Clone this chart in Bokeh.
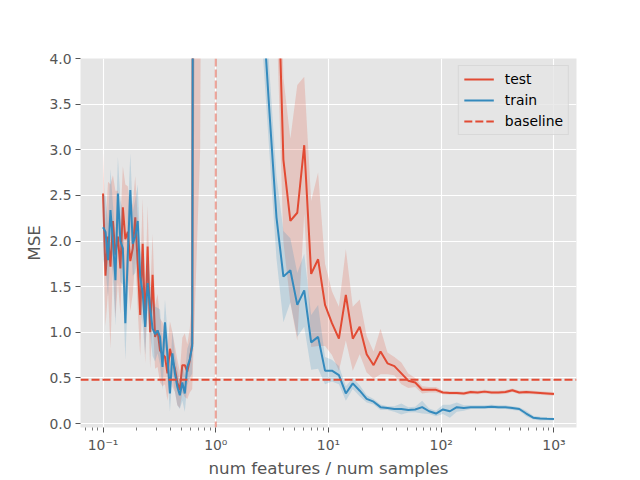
from bokeh.embed import file_html
from bokeh.models import (ColumnDataSource, CustomJSTickFormatter, FixedTicker, Legend,
                          LegendItem, NumeralTickFormatter, Range1d, Span)
from bokeh.plotting import figure
from bokeh.resources import INLINE

RED = "#E24A33"
BLUE = "#348ABD"
FONT = "DejaVu Sans"
TEXT_GREY = "#555555"

# num features / num samples
ratio = [
    0.1000, 0.1052, 0.1107, 0.1164, 0.1224, 0.1288, 0.1355, 0.1425, 0.1499, 0.1577,
    0.1659, 0.1745, 0.1835, 0.1931, 0.2031, 0.2136, 0.2247, 0.2364, 0.2487, 0.2616,
    0.2751, 0.2894, 0.3045, 0.3203, 0.3369, 0.3544, 0.3728, 0.3921, 0.4125, 0.4339,
    0.4564, 0.4801, 0.5050, 0.5312, 0.5588, 0.5878, 0.6183,
    0.7271, 0.8377, 0.9652, 1.112, 1.281, 1.476, 1.701, 1.960, 2.258, 2.602,
    2.998, 3.455, 3.981, 4.587, 5.286, 6.091, 7.017, 8.085, 9.316, 10.73,
    12.37, 14.25, 16.42, 18.92, 21.80, 25.12, 28.94, 33.35, 38.42, 44.28,
    51.02, 58.78, 67.73, 78.04, 89.92, 103.6, 119.4, 137.5, 158.5, 182.6,
    210.4, 242.4, 279.3, 321.8, 370.8, 427.3, 492.4, 567.4, 653.8, 753.4,
    868.1, 1000.0,
]

test_mse = [
    2.52, 1.62, 2.05, 1.72, 2.22, 1.85, 2.05, 1.70, 2.37, 2.02,
    2.10, 1.78, 1.92, 2.26, 1.75, 1.19, 1.97, 1.06, 1.94, 1.00,
    1.63, 0.95, 1.02, 0.80, 0.76, 0.73, 0.55, 0.82, 0.70, 0.60,
    0.45, 0.37, 0.64, 0.64, 0.57, 0.69, 0.88,
    60.0, 150.0, 900.0, 300.0, 90.0, 40.0, 22.0, 15.0, 11.0, 9.5,
    8.0, 5.5, 2.89, 2.22, 2.31, 3.05, 1.64, 1.80, 1.30, 1.10,
    0.93, 1.41, 0.93, 1.06, 0.76, 0.64, 0.79, 0.66, 0.63, 0.55,
    0.47, 0.45, 0.37, 0.37, 0.37, 0.34, 0.335, 0.335, 0.33, 0.345,
    0.34, 0.35, 0.34, 0.34, 0.345, 0.365, 0.34, 0.345, 0.34, 0.335,
    0.33, 0.325,
]
test_std = [
    0.45, 0.55, 0.60, 0.90, 0.50, 0.70, 0.50, 0.50, 0.45, 0.60,
    0.50, 0.55, 0.50, 0.45, 0.50, 0.45, 0.50, 0.40, 0.45, 0.40,
    0.45, 0.35, 0.40, 0.35, 0.35, 0.30, 0.30, 0.30, 0.30, 0.25,
    0.25, 0.20, 0.30, 0.35, 0.30, 0.35, 0.50,
    57.0, 130.0, 800.0, 250.0, 70.0, 28.0, 14.0, 9.0, 6.0, 5.0,
    1.5, 1.0, 0.9, 0.9, 1.4, 0.75, 0.8, 0.95, 0.45, 0.35,
    0.35, 0.5, 0.35, 0.3, 0.2, 0.15, 0.25, 0.12, 0.1, 0.12,
    0.08, 0.05, 0.04, 0.03, 0.03, 0.02, 0.02, 0.02, 0.02, 0.02,
    0.02, 0.02, 0.02, 0.02, 0.02, 0.02, 0.02, 0.02, 0.02, 0.02,
    0.02, 0.02,
]

train_mse = [
    2.15, 2.10, 1.79, 2.34, 2.00, 1.57, 2.52, 2.00, 1.92, 1.10,
    1.85, 2.56, 1.97, 2.05, 2.22, 1.61, 1.43, 1.06, 1.54, 1.27,
    1.04, 0.98, 1.02, 0.95, 0.62, 1.11, 0.75, 0.33, 0.77, 0.55,
    0.40, 0.31, 0.45, 0.33, 0.62, 0.70, 0.85,
    60.0, 150.0, 800.0, 250.0, 60.0, 20.0, 10.0, 7.0, 5.5, 4.6,
    3.40, 2.26, 1.61, 1.68, 1.30, 1.46, 0.89, 0.95, 0.58, 0.58,
    0.53, 0.33, 0.44, 0.36, 0.27, 0.24, 0.18, 0.17, 0.16, 0.16,
    0.15, 0.155, 0.18, 0.135, 0.11, 0.155, 0.135, 0.18, 0.17, 0.18,
    0.18, 0.18, 0.185, 0.18, 0.18, 0.17, 0.16, 0.11, 0.065, 0.055,
    0.052, 0.05,
]
train_std = [
    0.35, 0.40, 0.40, 0.45, 0.40, 0.50, 0.40, 0.45, 0.40, 0.40,
    0.45, 0.40, 0.35, 0.40, 0.40, 0.35, 0.35, 0.30, 0.30, 0.30,
    0.30, 0.30, 0.25, 0.30, 0.25, 0.25, 0.25, 0.20, 0.25, 0.20,
    0.20, 0.15, 0.20, 0.20, 0.20, 0.20, 0.30,
    48.0, 120.0, 700.0, 200.0, 45.0, 12.0, 4.0, 2.0, 1.0, 0.5,
    0.45, 0.45, 0.5, 0.35, 0.35, 0.4, 0.3, 0.35, 0.15, 0.12,
    0.1, 0.08, 0.06, 0.06, 0.04, 0.03, 0.03, 0.02, 0.03, 0.06,
    0.03, 0.03, 0.07, 0.03, 0.03, 0.05, 0.07, 0.05, 0.03, 0.02,
    0.02, 0.02, 0.02, 0.02, 0.02, 0.02, 0.02, 0.03, 0.02, 0.02,
    0.015, 0.015,
]

baseline_mse = 0.48
interpolation_threshold = 1.0

x_major = [0.1, 1, 10, 100, 1000]
y_major = [0.0, 0.5, 1.0, 1.5, 2.0, 2.5, 3.0, 3.5, 4.0]
x_lo, x_hi = 0.0631, 1585.0
x_minor = [m * 10.0 ** e for e in range(-2, 4) for m in range(2, 10) if x_lo < m * 10.0 ** e < x_hi]

source = ColumnDataSource(data=dict(
    ratio=ratio,
    test=test_mse,
    test_lo=[m - s for m, s in zip(test_mse, test_std)],
    test_hi=[m + s for m, s in zip(test_mse, test_std)],
    train=train_mse,
    train_lo=[m - s for m, s in zip(train_mse, train_std)],
    train_hi=[m + s for m, s in zip(train_mse, train_std)],
))

p = figure(
    width=640,
    height=480,
    x_axis_type="log",
    x_range=Range1d(x_lo, x_hi),
    y_range=Range1d(-0.043, 4.0),
    output_backend="svg",
    toolbar_location=None,
    min_border_left=80,
    min_border_right=64,
    min_border_top=58,
    min_border_bottom=53,
)
p.background_fill_color = "#E5E5E5"
p.border_fill_color = "white"
p.outline_line_color = None

p.varea(x="ratio", y1="test_lo", y2="test_hi", source=source, fill_color=RED, fill_alpha=0.2)
test_line = p.line(x="ratio", y="test", source=source, line_color=RED, line_width=2)
p.varea(x="ratio", y1="train_lo", y2="train_hi", source=source, fill_color=BLUE, fill_alpha=0.2)
train_line = p.line(x="ratio", y="train", source=source, line_color=BLUE, line_width=2)

# baseline spans the whole axis width
baseline_line = p.line(x=[x_lo, x_hi], y=[baseline_mse, baseline_mse], line_color=RED,
                       line_width=2, line_dash="8 3")
p.add_layout(Span(location=interpolation_threshold, dimension="height", line_color=RED,
                  line_alpha=0.5, line_width=2, line_dash="8 3"))

x_ticker = FixedTicker(ticks=x_major, minor_ticks=x_minor)
p.xaxis.ticker = x_ticker
p.xgrid.ticker = x_ticker
p.xaxis.formatter = CustomJSTickFormatter(code=r"""
const sup = {"-": "\u207b", "0": "\u2070", "1": "\u00b9", "2": "\u00b2", "3": "\u00b3",
             "4": "\u2074", "5": "\u2075", "6": "\u2076", "7": "\u2077", "8": "\u2078", "9": "\u2079"};
const e = Math.round(Math.log10(tick));
return "10" + String(e).split("").map((c) => sup[c]).join("");
""")
y_ticker = FixedTicker(ticks=y_major)
p.yaxis.ticker = y_ticker
p.ygrid.ticker = y_ticker
p.yaxis.formatter = NumeralTickFormatter(format="0.0")

p.grid.grid_line_color = "white"
p.grid.grid_line_width = 1.1

p.axis.axis_line_color = None
p.axis.major_tick_line_color = TEXT_GREY
p.axis.major_tick_out = 5
p.axis.major_tick_in = 0
p.xaxis.minor_tick_line_color = TEXT_GREY
p.xaxis.minor_tick_line_width = 0.8
p.xaxis.minor_tick_out = 3
p.xaxis.minor_tick_in = 0
p.yaxis.minor_tick_line_color = None
p.axis.major_label_text_font = FONT
p.axis.major_label_text_font_size = "13.9px"
p.axis.major_label_text_color = TEXT_GREY
p.axis.major_label_standoff = 4
p.axis.axis_label_text_font = FONT
p.axis.axis_label_text_font_size = "16.7px"
p.axis.axis_label_text_font_style = "normal"
p.axis.axis_label_text_color = TEXT_GREY
p.xaxis.axis_label = "num features / num samples"
p.xaxis.axis_label_standoff = 2
p.yaxis.axis_label = "MSE"
p.yaxis.axis_label_standoff = 2

legend = Legend(
    items=[
        LegendItem(label="test", renderers=[test_line]),
        LegendItem(label="train", renderers=[train_line]),
        LegendItem(label="baseline", renderers=[baseline_line]),
    ],
    location="top_right",
    margin=7,
    padding=5,
    spacing=5,
    glyph_width=30,
    glyph_height=16,
    label_height=16,
    label_standoff=11,
    label_text_font=FONT,
    label_text_font_size="13.9px",
    label_text_color="black",
    background_fill_color="#E5E5E5",
    background_fill_alpha=0.8,
    border_line_color="#CCCCCC",
    border_line_width=1,
)
p.add_layout(legend)

open("out.html", "w").write(file_html(p, INLINE))
